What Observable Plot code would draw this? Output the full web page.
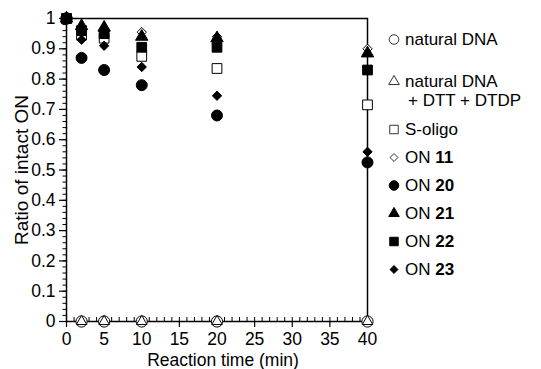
<!DOCTYPE html>
<html>
<head>
<meta charset="utf-8">
<script src="https://cdn.jsdelivr.net/npm/d3@7"></script>
<script src="https://cdn.jsdelivr.net/npm/@observablehq/plot@0.6"></script>
<style>
  body { margin: 0; background: #fff; }
  #wrap { position: relative; width: 541px; height: 369px; overflow: hidden; font-family: "Liberation Sans", Arial, sans-serif; }
  #legend { position: absolute; left: 386px; top: 0px; font-size: 17px; color: #000; }
  .row { display: flex; align-items: flex-start; line-height: 19px; height: 19px; }
  .row.two { height: 38px; }
  .row svg { flex: none; width: 16px; height: 19px; margin-right: 3px; }
  .row b { font-weight: bold; }
  .indent { padding-left: 3px; white-space: nowrap; }
</style>
</head>
<body>
<div id="wrap"></div>
<script>
// ---- data ----
const times = [0, 2, 5, 10, 20, 40];
const naturalDNA = [1, 0, 0, 0, 0, 0];
const naturalDTT = [1, 0, 0, 0, 0, 0];
const sOligo = [1, 0.945, 0.935, 0.875, 0.835, 0.715];
const on11 = [1, 0.955, 0.96, 0.955, 0.94, 0.90];
const on20 = [1, 0.87, 0.83, 0.78, 0.68, 0.525];
const on21 = [1, 0.975, 0.97, 0.94, 0.935, 0.885];
const on22 = [1, 0.96, 0.95, 0.905, 0.905, 0.83];
const on23 = [1, 0.93, 0.91, 0.84, 0.745, 0.56];

const xTicks = [0, 5, 10, 15, 20, 25, 30, 35, 40];
const xMinor = d3.range(0, 41, 1);
const yTicks = [0, 0.1, 0.2, 0.3, 0.4, 0.5, 0.6, 0.7, 0.8, 0.9, 1];
const yMinor = d3.range(0, 51).map(i => i / 50);

// legend / series definitions (draw order)
const series = [
  {label: ["natural DNA"], values: naturalDNA, symbol: "circle", fill: "white", r: 5.6, legend: 0},
  {label: ["natural DNA", "+ DTT + DTDP"], values: naturalDTT, symbol: "triangle", fill: "white", r: 3.9, legend: 1},
  {label: ["S-oligo"], values: sOligo, symbol: "square", fill: "white", r: 5.5, legend: 2},
  {label: ["ON ", "11"], values: on11, symbol: "diamond2", fill: "white", r: 4.2, legend: 3},
  {label: ["ON ", "20"], values: on20, symbol: "circle", fill: "black", r: 5.5, legend: 4},
  {label: ["ON ", "23"], values: on23, symbol: "diamond2", fill: "black", r: 4.2, legend: 7},
  {label: ["ON ", "21"], values: on21, symbol: "triangle", fill: "black", r: 4.6, legend: 5},
  {label: ["ON ", "22"], values: on22, symbol: "square", fill: "black", r: 5.5, legend: 6}
];

const fmt = d => String(+d.toFixed(1));

const dotMarks = series.map(s =>
  Plot.dot(times.map((t, i) => ({t, v: s.values[i]})), {
    x: "t", y: "v", symbol: () => s.symbol, r: s.r,
    fill: s.fill, stroke: "black", strokeWidth: 1
  })
);

const chart = Plot.plot({
  width: 541, height: 369,
  marginLeft: 66, marginTop: 18, marginRight: 174, marginBottom: 48,
  x: {domain: [0, 40]},
  y: {domain: [0, 1]},
  symbol: {type: "identity"},
  style: {fontFamily: "Liberation Sans, Arial, sans-serif", fontSize: "17px", color: "black", background: "white"},
  marks: [
    Plot.frame({stroke: "black", strokeWidth: 1.5}),
    Plot.axisX({ticks: xMinor, tickSize: -4, tickFormat: () => "", label: null, strokeWidth: 1}),
    Plot.axisX({ticks: xTicks, tickSize: 6, tickPadding: 5, tickFormat: fmt, label: null, strokeWidth: 1.2, fontSize: 17.5}),
    Plot.axisY({ticks: yMinor, tickSize: 3.5, tickFormat: () => "", label: null, strokeWidth: 1}),
    Plot.axisY({ticks: yTicks, tickSize: 7, tickPadding: 4, tickFormat: fmt, label: null, strokeWidth: 1.2, fontSize: 17.5}),
    Plot.text(["Ratio of intact ON"], {frameAnchor: "left", rotate: -90, dx: -45, textAnchor: "middle", lineAnchor: "middle", fontSize: 19}),
    Plot.text(["Reaction time (min)"], {frameAnchor: "bottom", dy: 38.5, dx: 6, textAnchor: "middle", lineAnchor: "middle", fontSize: 17.5}),
    ...dotMarks
  ]
});

const wrap = document.getElementById("wrap");
wrap.appendChild(chart);

// legend
const legend = document.createElement("div");
legend.id = "legend";
const rowMargins = [30, 23, 10, 9, 9, 9, 9, 9];
const symbolMap = {circle: d3.symbolCircle, triangle: d3.symbolTriangle, square: d3.symbolSquare, diamond2: d3.symbolDiamond2};
const ordered = series.slice().sort((a, b) => a.legend - b.legend);
ordered.forEach((s, i) => {
  const row = document.createElement("div");
  const twoLine = s.label.length === 2 && s.label[0] !== "ON ";
  row.className = "row" + (twoLine ? " two" : "");
  row.style.marginTop = rowMargins[i] + "px";
  const size = s.symbol === "diamond2" ? 40 : s.symbol === "triangle" ? 48 : 72;
  const path = d3.symbol(symbolMap[s.symbol], size)();
  row.innerHTML = `<svg viewBox="-8 -9.5 16 19"><path d="${path}" fill="${s.fill}" stroke="black" stroke-width="${s.fill === "white" ? 0.8 : 1}"></path></svg>`;
  const txt = document.createElement("div");
  if (s.label[0] === "ON ") {
    txt.innerHTML = `ON <b>${s.label[1]}</b>`;
  } else if (twoLine) {
    txt.innerHTML = `${s.label[0]}<div class="indent">${s.label[1]}</div>`;
  } else {
    txt.textContent = s.label[0];
  }
  row.appendChild(txt);
  legend.appendChild(row);
});
wrap.appendChild(legend);
</script>
</body>
</html>
